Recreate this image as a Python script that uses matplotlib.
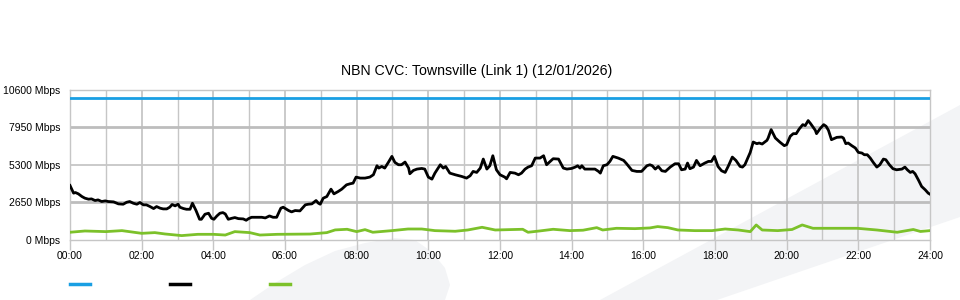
import matplotlib
matplotlib.use("Agg")
import matplotlib.pyplot as plt
from matplotlib.lines import Line2D
from matplotlib.patches import Polygon

plt.rcParams['font.family'] = ['Liberation Sans', 'DejaVu Sans']

# link capacity (Mbps)
capacity_times = ["00:00", "24:00"]
capacity_mbps = [10000, 10000]

# traffic (black)
traffic_times = [
    "00:00", "00:06", "00:09", "00:14", "00:20", "00:25", "00:31", "00:36", "00:42", "00:47",
    "00:53", "00:59", "01:04", "01:13", "01:21", "01:29", "01:35", "01:40", "01:46", "01:52",
    "01:57", "02:03", "02:08", "02:14", "02:20", "02:25", "02:31", "02:36", "02:42", "02:47",
    "02:51", "02:56", "03:01", "03:04", "03:10", "03:15", "03:21", "03:25", "03:31", "03:37",
    "03:40", "03:46", "03:52", "03:57", "04:01", "04:06", "04:11", "04:16", "04:20", "04:25",
    "04:31", "04:36", "04:42", "04:50", "04:55", "04:59", "05:04", "05:13", "05:21", "05:27",
    "05:34", "05:40", "05:46", "05:53", "05:57", "06:06", "06:11", "06:17", "06:25", "06:34",
    "06:39", "06:45", "06:52", "06:56", "06:59", "07:04", "07:10", "07:17", "07:22", "07:29",
    "07:35", "07:43", "07:49", "07:54", "07:59", "08:06", "08:14", "08:22", "08:28", "08:34",
    "08:37", "08:42", "08:47", "08:53", "08:59", "09:04", "09:10", "09:15", "09:21", "09:27",
    "09:29", "09:35", "09:41", "09:49", "09:54", "10:00", "10:06", "10:11", "10:20", "10:25",
    "10:29", "10:36", "10:45", "10:56", "11:04", "11:10", "11:15", "11:21", "11:27", "11:32",
    "11:38", "11:43", "11:48", "11:54", "12:00", "12:08", "12:11", "12:17", "12:25", "12:31",
    "12:36", "12:42", "12:47", "12:53", "12:59", "13:07", "13:13", "13:18", "13:24", "13:29",
    "13:38", "13:46", "13:52", "14:00", "14:06", "14:10", "14:14", "14:17", "14:22", "14:31",
    "14:39", "14:45", "14:48", "14:53", "14:59", "15:04", "15:09", "15:18", "15:27", "15:32",
    "15:41", "15:49", "15:57", "16:06", "16:11", "16:15", "16:20", "16:25", "16:31", "16:37",
    "16:45", "16:53", "16:59", "17:04", "17:10", "17:14", "17:18", "17:24", "17:29", "17:35",
    "17:43", "17:49", "17:54", "17:59", "18:05", "18:11", "18:17", "18:22", "18:29", "18:35",
    "18:42", "18:46", "18:50", "18:59", "19:04", "19:10", "19:14", "19:19", "19:27", "19:29",
    "19:34", "19:41", "19:49", "19:56", "20:00", "20:06", "20:11", "20:16", "20:21", "20:27",
    "20:31", "20:36", "20:40", "20:48", "20:50", "20:56", "21:02", "21:06", "21:10", "21:15",
    "21:24", "21:32", "21:35", "21:39", "21:43", "21:49", "21:55", "22:00", "22:06", "22:10",
    "22:15", "22:20", "22:25", "22:31", "22:36", "22:42", "22:46", "22:52", "22:58", "23:04",
    "23:13", "23:18", "23:22", "23:27", "23:31", "23:35", "23:41", "23:46", "23:52", "23:57",
    "24:00",
]
traffic_mbps = [
    3840, 3300, 3345, 3250, 3060, 2945, 2875, 2895, 2780, 2825,
    2710, 2755, 2710, 2685, 2545, 2520, 2660, 2710, 2590, 2520,
    2640, 2475, 2475, 2355, 2215, 2355, 2240, 2190, 2190, 2310,
    2500, 2405, 2520, 2310, 2215, 2165, 2165, 2590, 2075, 1460,
    1460, 1815, 1885, 1530, 1460, 1695, 1885, 1930, 1835, 1460,
    1530, 1580, 1505, 1485, 1390, 1505, 1600, 1600, 1600, 1555,
    1695, 1600, 1600, 2240, 2310, 2075, 1980, 2075, 2050, 2475,
    2520, 2545, 2780, 2590, 2520, 2945, 3060, 3580, 3250, 3415,
    3580, 3885, 3960, 4005, 4430, 4360, 4360, 4430, 4595, 5230,
    5065, 5180, 5065, 5465, 5890, 5465, 5300, 5300, 5490, 5065,
    4665, 4900, 4995, 5040, 4995, 4430, 4285, 4710, 5300, 5065,
    5180, 4710, 4595, 4475, 4360, 4525, 4830, 4760, 5065, 5700,
    4995, 5230, 5935, 4945, 4595, 4430, 4310, 4760, 4710, 4595,
    4710, 4995, 5135, 5230, 5770, 5770, 5935, 5300, 5535, 5725,
    5700, 5065, 4995, 5040, 5135, 5230, 5065, 5230, 4995, 4995,
    4995, 4830, 4710, 5230, 5300, 5535, 5890, 5770, 5605, 5370,
    4900, 4830, 4830, 5230, 5300, 5230, 4995, 5180, 4875, 4830,
    5135, 5370, 5370, 4945, 4995, 5420, 5020, 5135, 5605, 5230,
    5420, 5535, 5535, 5890, 5180, 4875, 4760, 5180, 5840, 5605,
    5180, 5135, 5300, 6170, 6900, 6785, 6830, 6760, 7020, 7185,
    7775, 7185, 6880, 6645, 6715, 7305, 7490, 7490, 7820, 8125,
    8055, 8410, 8200, 7725, 7490, 7845, 8125, 8010, 7725, 7065,
    7230, 7255, 7185, 6785, 6830, 6645, 6480, 6170, 6125, 6005,
    6005, 5770, 5465, 5135, 5300, 5700, 5655, 5300, 5020, 4945,
    4995, 5135, 4945, 4760, 4830, 4665, 4195, 3770, 3535, 3300,
    3225,
]

# second series (green)
green_times = [
    "00:00", "00:25", "01:00", "01:27", "02:00", "02:22", "02:39", "03:07", "03:34", "04:00",
    "04:20", "04:36", "05:01", "05:18", "05:47", "06:42", "07:10", "07:24", "07:44", "08:00",
    "08:14", "08:27", "08:59", "09:26", "09:49", "10:11", "10:45", "11:06", "11:30", "11:52",
    "12:38", "12:47", "13:07", "13:29", "13:57", "14:19", "14:42", "14:52", "15:15", "15:46",
    "16:11", "16:24", "16:41", "16:58", "17:26", "17:55", "18:17", "18:39", "18:59", "19:09",
    "19:19", "19:45", "20:09", "20:26", "20:44", "21:29", "21:58", "22:31", "23:05", "23:32",
    "23:44", "24:00",
]
green_mbps = [
    545, 635, 590, 660, 470, 520, 425, 310, 400, 400,
    350, 590, 520, 350, 400, 420, 520, 710, 755, 590,
    730, 545, 660, 775, 775, 660, 615, 705, 895, 705,
    755, 545, 640, 755, 660, 690, 870, 705, 825, 800,
    850, 945, 870, 705, 660, 660, 775, 705, 590, 1060,
    705, 660, 740, 1060, 825, 825, 825, 705, 545, 740,
    600, 660,
]

y_ticks = [0, 2650, 5300, 7950, 10600]
x_labels = ["00:00", "02:00", "04:00", "06:00", "08:00", "10:00", "12:00",
            "14:00", "16:00", "18:00", "20:00", "22:00", "24:00"]

BLUE = "#1a9fe3"
GREEN = "#7cc12a"
GRID = "#c6c6c6"


def to_hours(s):
    h, m = s.split(":")
    return int(h) + int(m) / 60


fig = plt.figure(figsize=(9.6, 3), dpi=100)
fig.patch.set_facecolor("white")


# faint watermark shapes behind the plot (pixel coords, y from top)
def fig_poly(points, **kw):
    pts = [(x / 960, 1 - y / 300) for x, y in points]
    fig.patches.append(Polygon(pts, closed=True, transform=fig.transFigure, zorder=-5, **kw))


fig_poly([(250, 300), (275, 283), (305, 265), (335, 251), (365, 243), (395, 238),
          (415, 240), (432, 252), (445, 268), (450, 285), (445, 300)],
         facecolor="#f3f4f6", edgecolor="none")
fig_poly([(600, 300), (960, 105), (960, 217), (717, 300)],
         facecolor="#f3f4f6", edgecolor="none")

ax = fig.add_axes([70 / 960, 1 - 240 / 300, 860 / 960, 150.5 / 300])
ax.set_facecolor("none")

# grid
for h in range(1, 24):
    ax.axvline(h, color=GRID, lw=1.3 if h % 2 == 0 else 1.0, zorder=1)
for v in y_ticks[1:-1]:
    major = v in (2650, 7950)
    ax.axhline(v, color="#bdbdbd" if major else GRID, lw=2.0 if major else 1.3, zorder=1)

ax.plot([to_hours(t) for t in green_times], green_mbps, color=GREEN, lw=2.0, zorder=3)
ax.plot([to_hours(t) for t in traffic_times], traffic_mbps, color="black", lw=2.0, zorder=4)
ax.plot([to_hours(t) for t in capacity_times], capacity_mbps, color=BLUE, lw=2.0, zorder=4)

ax.set_xlim(0, 24)
ax.set_ylim(0, 10600)
ax.set_xticks(range(0, 25, 2))
ax.set_xticklabels(x_labels)
ax.set_yticks(y_ticks)
ax.set_yticklabels([f"{v} Mbps" for v in y_ticks])
ax.tick_params(axis="x", length=7, width=1, color=GRID, pad=1, labelsize=7.5)
ax.tick_params(axis="y", length=0, pad=7, labelsize=7.5)
for s in ax.spines.values():
    s.set_color(GRID)
    s.set_linewidth(1.0)

fig.text(0.497, 1 - 71 / 300, "NBN CVC: Townsville (Link 1) (12/01/2026)",
         ha="center", va="center", fontsize=10.2)

handles = [Line2D([], [], color=c, lw=2.5) for c in (BLUE, "black", GREEN)]
fig.legend(handles, ["", "", ""], ncol=3, frameon=False, loc="center left",
           bbox_to_anchor=(70 / 960, 15 / 300), borderpad=0, borderaxespad=0,
           handlelength=1.8, handletextpad=0.8, columnspacing=6.4, fontsize=8)

fig.savefig("out.png", dpi=100)
